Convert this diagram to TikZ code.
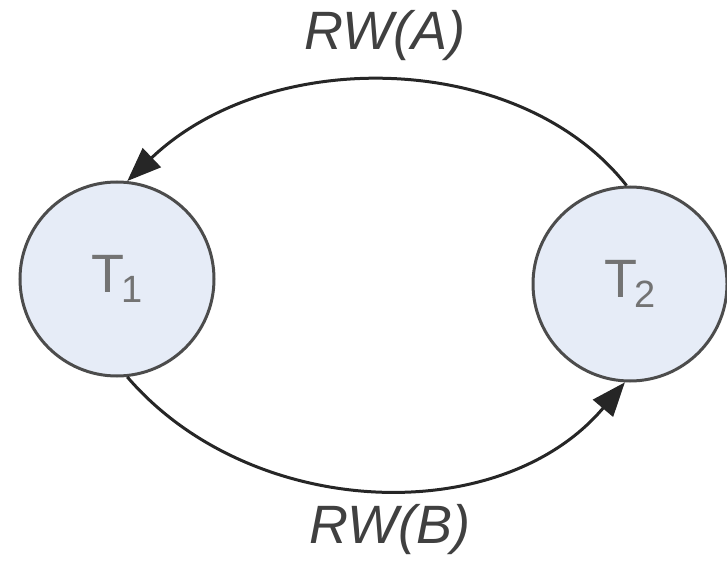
\documentclass[tikz,border=0pt]{standalone}
\usepackage{fontspec}
\setmainfont{Liberation Sans}
\usetikzlibrary{arrows.meta}
\newcommand{\txlabel}[1]{T\kern-0.04em\raisebox{-0.2em}{\fontsize{38}{40}\selectfont #1}}
\begin{document}
\begin{tikzpicture}[x=1pt,y=-1pt,
  txnode/.style={circle,draw=black!70,line width=3pt,fill={rgb,255:red,230;green,236;blue,247},minimum size=194pt,inner sep=0pt,text=black!55,font=\fontsize{54}{60}\selectfont},
  edge/.style={draw=black!85,line width=3pt,-{Triangle[length=34pt,width=26pt]}},
  lbl/.style={text=black!75,font=\fontsize{54}{60}\selectfont\itshape}]
\useasboundingbox (0,0) rectangle (727,564);
\node[txnode] (T1) at (117,279) {\txlabel{1}};
\node[txnode] (T2) at (630,284) {\txlabel{2}};
\draw[edge] (T2.92) .. controls (520,50) and (270,45) .. (T1.84);
\draw[edge] (T1.-84) .. controls (250,520) and (500,530) .. (T2.-93);
\node[lbl] (la) at (385,36) {RW(A)};
\node[lbl] (lb) at (390,530) {RW(B)};
\end{tikzpicture}
\end{document}
